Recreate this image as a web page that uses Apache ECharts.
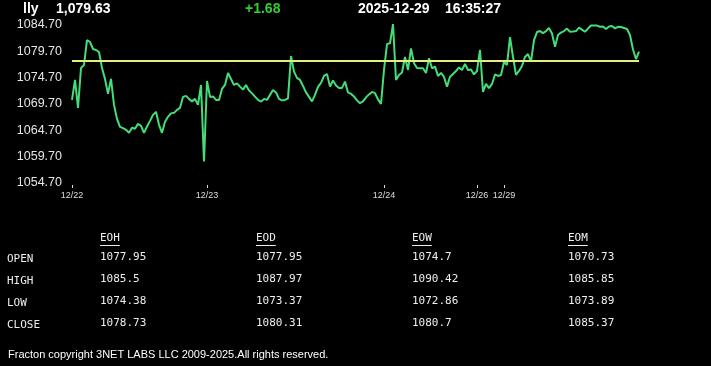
<!DOCTYPE html>
<html>
<head>
<meta charset="utf-8">
<script src="https://cdn.jsdelivr.net/npm/echarts@6/dist/echarts.min.js"></script>
<style>
html,body{margin:0;padding:0;background:#000;}
#chart{width:711px;height:366px;}
</style>
</head>
<body>
<div id="chart"></div>
<script>
// ---- header ----
const symbol = 'lly';
const lastPrice = '1,079.63';
const change = '+1.68';
const quoteDate = '2025-12-29';
const quoteTime = '16:35:27';
const prevClose = 1077.95;

// ---- x axis tick labels ----
const dateLabels = ['12/22', '12/23', '12/24', '12/26', '12/29'];
const dateIndex = [0, 45, 104, 135, 144];

// ---- price series ----
const prices = [
  1070.48, 1074.27, 1068.96, 1076.54, 1077.11, 1081.84, 1081.47, 1080.14, 1079.95, 1079.57,
  1076.54, 1074.46, 1071.62, 1074.46, 1069.53, 1066.88, 1065.37, 1065.12, 1064.80, 1064.23,
  1065.18, 1064.99, 1065.93, 1065.56, 1064.23, 1065.42, 1066.50, 1067.64, 1068.21, 1065.75,
  1064.23, 1066.31, 1067.26, 1067.92, 1068.02, 1068.59, 1068.97, 1071.05, 1071.24, 1070.67,
  1070.20, 1070.67, 1069.53, 1073.32, 1058.79, 1074.08, 1071.05, 1071.14, 1070.48, 1070.48,
  1072.56, 1073.32, 1075.59, 1074.46, 1073.32, 1073.61, 1073.00, 1072.43, 1073.32, 1072.28,
  1071.71, 1071.11, 1070.48, 1070.16, 1070.67, 1070.48, 1071.43, 1072.37, 1071.90, 1070.67,
  1070.39, 1070.48, 1070.77, 1078.81, 1075.84, 1074.65, 1074.27, 1073.13, 1071.90, 1071.05,
  1070.20, 1071.43, 1072.94, 1073.70, 1075.03, 1075.40, 1073.00, 1074.17, 1073.23, 1072.75,
  1072.75, 1073.95, 1071.90, 1071.62, 1071.14, 1070.39, 1069.86, 1070.20, 1070.95, 1071.52,
  1071.99, 1071.75, 1070.58, 1069.72, 1076.16, 1081.09, 1081.22, 1084.87, 1074.27, 1075.22,
  1075.69, 1078.62, 1076.16, 1080.27, 1077.43, 1076.54, 1076.48, 1076.48, 1075.59, 1078.38,
  1076.48, 1076.79, 1075.03, 1075.59, 1074.84, 1073.00, 1074.89, 1075.40, 1075.97, 1076.64,
  1076.16, 1077.30, 1076.16, 1076.26, 1075.31, 1075.97, 1079.95, 1071.99, 1073.51, 1072.70,
  1073.51, 1075.31, 1075.03, 1075.22, 1077.68, 1077.11, 1082.41, 1078.62, 1075.22, 1075.97,
  1076.92, 1078.62, 1079.19, 1077.73, 1081.84, 1083.36, 1083.55, 1083.17, 1083.55, 1084.12,
  1083.07, 1080.58, 1082.79, 1083.26, 1083.55, 1084.02, 1083.42, 1083.45, 1083.55, 1084.21,
  1083.83, 1083.42, 1084.02, 1084.59, 1084.59, 1084.59, 1084.36, 1084.40, 1083.93, 1084.40,
  1084.50, 1084.06, 1084.36, 1084.31, 1084.12, 1083.93, 1082.79, 1080.05, 1078.24, 1079.63
];

// ---- y axis ----
const yMin = 1054.70;
const yMax = 1084.70;
const yStep = 5;

// ---- table ----
const tableCols = ['EOH', 'EOD', 'EOW', 'EOM'];
const tableRows = ['OPEN', 'HIGH', 'LOW', 'CLOSE'];
const eoh = ['1077.95', '1085.5', '1074.38', '1078.73'];
const eod = ['1077.95', '1087.97', '1073.37', '1080.31'];
const eow = ['1074.7', '1090.42', '1072.86', '1080.7'];
const eom = ['1070.73', '1085.85', '1073.89', '1085.37'];
const footer = 'Fracton copyright 3NET LABS LLC 2009-2025.All rights reserved.';

// build categories
const categories = prices.map(() => '');
dateIndex.forEach((idx, k) => { categories[idx] = dateLabels[k]; });

const chart = echarts.init(document.getElementById('chart'), null, {renderer: 'canvas'});

const hdrFont = 'bold 14px "Liberation Sans", Arial, sans-serif';
const monoFont = '11px "DejaVu Sans Mono", monospace';
function txt(x, y, text, fill, font) {
  return {type: 'text', x: x, y: y, silent: true,
    style: {text: text, fill: fill, font: font, textVerticalAlign: 'middle', verticalAlign: 'middle'}};
}
const graphics = [
  txt(23, 9, symbol, '#fff', hdrFont),
  txt(56, 9, lastPrice, '#fff', hdrFont),
  txt(245, 9, change, '#33cc33', hdrFont),
  txt(358, 9, quoteDate, '#fff', hdrFont),
  txt(445, 9, quoteTime, '#fff', hdrFont)
];
const colX = [100, 256, 412, 568];
const rowY = [258, 280, 302, 324];
const colData = [eoh, eod, eow, eom];
tableCols.forEach((c, ci) => {
  graphics.push(txt(colX[ci], 238, c, '#eee', monoFont));
  graphics.push({type: 'line', silent: true,
    shape: {x1: colX[ci], y1: 245.5, x2: colX[ci] + c.length * 6.6, y2: 245.5},
    style: {stroke: '#eee', lineWidth: 1}});
  colData[ci].forEach((v, ri) => {
    graphics.push(txt(colX[ci], rowY[ri] - 1, v, '#eee', monoFont));
  });
});
tableRows.forEach((r, ri) => {
  graphics.push(txt(7, rowY[ri] + 1, r, '#eee', monoFont));
});
graphics.push(txt(8, 355, footer, '#fff', '11px "Liberation Sans", Arial, sans-serif'));

chart.setOption({
  backgroundColor: '#000',
  animation: false,
  grid: {left: 72, right: 72, top: 25, bottom: 183},
  xAxis: {
    type: 'category',
    data: categories,
    boundaryGap: false,
    offset: 2,
    axisLine: {show: false},
    axisTick: {show: true, length: 3, interval: (i, v) => v !== '', lineStyle: {color: '#ddd', width: 1}},
    axisLabel: {interval: (i, v) => v !== '', color: '#ddd', fontSize: 9,
      fontFamily: '"Liberation Sans", Arial, sans-serif', margin: 6},
    splitLine: {show: false}
  },
  yAxis: {
    type: 'value',
    min: yMin, max: yMax, interval: yStep,
    axisLine: {show: false},
    axisTick: {show: false},
    splitLine: {show: false},
    axisLabel: {color: '#e6e6e6', fontSize: 12.5, margin: 10,
      fontFamily: '"Liberation Sans", Arial, sans-serif',
      formatter: v => v.toFixed(2)}
  },
  series: [{
    type: 'line',
    data: prices,
    showSymbol: false,
    clip: false,
    lineStyle: {color: '#44dd77', width: 2},
    markLine: {
      silent: true, symbol: 'none', animation: false,
      label: {show: false},
      lineStyle: {color: '#e4f07a', width: 2, type: 'solid'},
      data: [{yAxis: prevClose}]
    },
    z: 3
  }],
  graphic: graphics
});
</script>
</body>
</html>
